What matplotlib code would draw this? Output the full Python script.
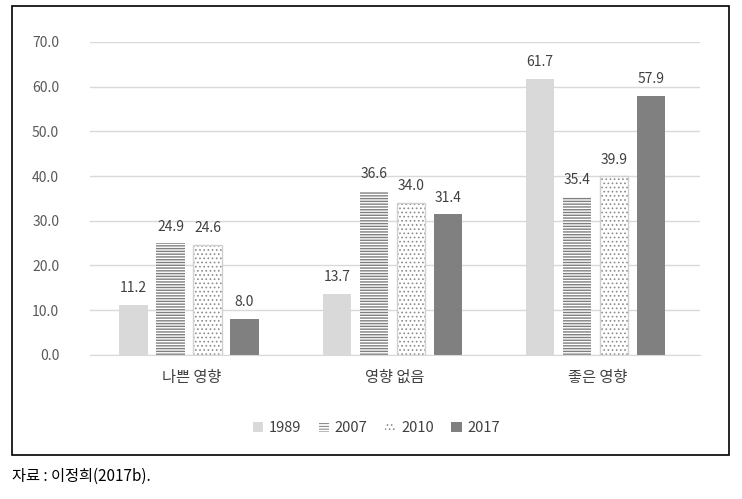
import matplotlib.pyplot as plt
import numpy as np
from matplotlib.patches import Rectangle

plt.rcParams['font.family'] = ['Noto Sans CJK KR', 'DejaVu Sans']

categories = ["나쁜 영향", "영향 없음", "좋은 영향"]
years = ["1989", "2007", "2010", "2017"]
v1989 = [11.2, 13.7, 61.7]
v2007 = [24.9, 36.6, 35.4]
v2010 = [24.6, 34.0, 39.9]
v2017 = [8.0, 31.4, 57.9]
yticks = [0, 10, 20, 30, 40, 50, 60, 70]

series = [v1989, v2007, v2010, v2017]
styles = [
    dict(color="#d9d9d9", hatch=None, edge="#d9d9d9"),
    dict(color="white", hatch="------", edge="#7f7f7f"),
    dict(color="white", hatch="....", edge="#8c8c8c"),
    dict(color="#808080", hatch=None, edge="#808080"),
]

fig = plt.figure(figsize=(7.42, 4.99), dpi=100)
fig.patches.append(Rectangle((0.016, 0.088), 0.966, 0.9, transform=fig.transFigure,
                             fill=False, edgecolor="black", linewidth=1.2))
ax = fig.add_axes([0.121, 0.289, 0.822, 0.627])

x = np.arange(len(categories))
width = 0.138
step = 0.182
text_col = "#595959"
for i, (vals, st) in enumerate(zip(series, styles)):
    pos = x + (i - 1.5) * step - 0.012
    plt.rcParams['hatch.linewidth'] = 1.0 if i == 1 else 0.7
    ax.bar(pos, vals, width=width, color=st["color"], hatch=st["hatch"],
           edgecolor=st["edge"], linewidth=0, label=years[i], zorder=2)
    if i == 2:
        ax.bar(pos, vals, width=width, color="none", edgecolor="#d0d0d0",
               linewidth=1, zorder=3)
    for xp, v in zip(pos, vals):
        ax.text(xp, v + 2.2, f"{v:.1f}", ha="center", va="bottom",
                fontsize=10, color="#404040")

ax.set_ylim(0, 70)
ax.set_xlim(-0.5, 2.5)
ax.set_yticks(yticks)
ax.set_yticklabels([f"{t:.1f}" for t in yticks], fontsize=10, color=text_col)
ax.set_xticks(x)
ax.set_xticklabels(categories, fontsize=11, color="#404040")
ax.tick_params(length=0, pad=10)
ax.tick_params(axis="y", pad=22)
ax.grid(axis="y", color="#d9d9d9", linewidth=1, zorder=0)
for s in ["top", "right", "left"]:
    ax.spines[s].set_visible(False)
ax.spines["bottom"].set_color("#d9d9d9")

ax.legend(loc="center", bbox_to_anchor=(0.47, -0.235), ncol=4, frameon=False,
          fontsize=10.5, handlelength=0.7, handleheight=0.7, handletextpad=0.4,
          columnspacing=1.2, labelcolor="#404040")

fig.text(0.016, 0.045, "자료 : 이정희(2017b).", fontsize=11, va="center", ha="left")

fig.savefig("out.png", dpi=100)
